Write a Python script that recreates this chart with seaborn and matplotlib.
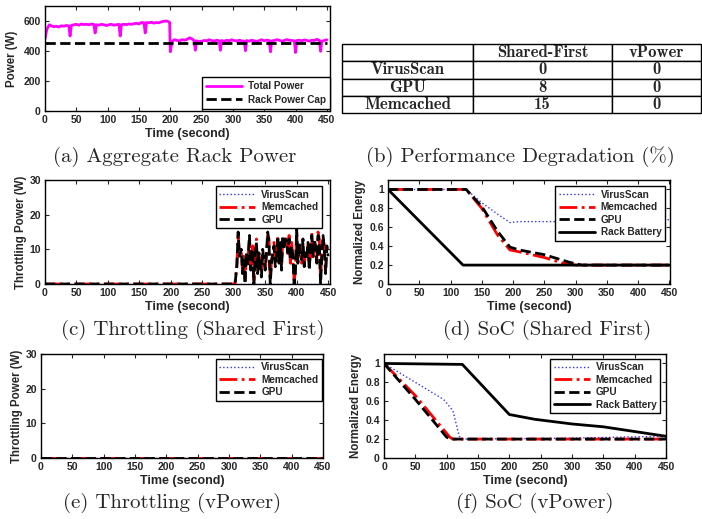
import matplotlib
matplotlib.use("Agg")
import matplotlib.pyplot as plt
import seaborn as sns

# (a) aggregate rack power
pow_t = [0, 3, 7, 10, 14, 18, 22, 26, 30, 34,
         38, 40, 42, 46, 50, 54, 58, 62, 66, 70,
         74, 78, 80, 82, 86, 90, 94, 98, 102, 106,
         110, 114, 118, 120, 122, 126, 130, 134, 138, 142,
         146, 150, 154, 158, 160, 162, 166, 170, 174, 178,
         182, 186, 190, 194, 197, 199, 200, 203, 207, 211,
         215, 219, 223, 227, 231, 235, 238, 240, 242, 246,
         250, 254, 258, 262, 266, 270, 274, 278, 280, 282,
         286, 290, 294, 298, 302, 306, 310, 314, 318, 320,
         322, 326, 330, 334, 338, 342, 346, 350, 354, 358,
         360, 362, 366, 370, 374, 378, 382, 386, 390, 394,
         398, 400, 402, 406, 410, 414, 418, 422, 426, 430,
         434, 438, 440, 442, 446, 450]
pow_w = [480, 545, 575, 568, 562, 565, 560, 568, 565, 570,
         568, 500, 570, 575, 578, 572, 580, 576, 578, 575,
         580, 577, 520, 575, 572, 578, 575, 570, 575, 578,
         572, 575, 578, 500, 575, 578, 576, 580, 578, 582,
         585, 580, 590, 588, 520, 590, 588, 592, 586, 590,
         588, 595, 598, 600, 596, 590, 395, 465, 475, 470,
         468, 476, 472, 478, 488, 480, 470, 405, 468, 462,
         465, 470, 468, 475, 470, 466, 472, 468, 405, 470,
         465, 472, 468, 475, 470, 466, 472, 468, 465, 402,
         470, 465, 472, 468, 462, 470, 475, 468, 472, 470,
         395, 468, 470, 475, 472, 465, 470, 476, 472, 470,
         468, 390, 470, 472, 468, 474, 470, 466, 472, 470,
         478, 472, 398, 465, 470, 475]
cap_t = [0, 450]
cap_w = [450, 450]

# (b) performance degradation (%)
tbl_apps = ["VirusScan", "GPU", "Memcached"]
tbl_cols = ["", "Shared-First", "vPower"]
shared_first = [0, 8, 15]
vpower = [0, 0, 0]

# (c) throttling, shared first
throt_t = [0, 302, 305, 307, 309, 312, 314, 316, 318, 320,
           322, 325, 327, 330, 332, 334, 336, 338, 340, 342,
           344, 346, 348, 350, 352, 354, 356, 358, 360, 362,
           364, 366, 368, 370, 372, 374, 376, 378, 380, 382,
           384, 386, 388, 390, 392, 394, 396, 398, 400, 402,
           404, 406, 408, 410, 412, 414, 416, 418, 420, 422,
           424, 426, 428, 430, 432, 434, 436, 438, 440, 442,
           444, 446, 448, 450]
gpu_thr = [0, 0, 5, 15, 8, 10, 3, 7, 0, 9,
           5, 14, 4, 10, 0, 8, 12, 3, 9, 6,
           2, 10, 7, 4, 9, 15, 12, 0, 6, 9,
           11, 5, 8, 13, 6, 12, 4, 14, 10, 13,
           12, 9, 13, 7, 11, 8, 0, 3, 16, 6,
           12, 9, 7, 13, 5, 9, 7, 12, 4, 10,
           14, 8, 13, 11, 6, 14, 12, 0, 8, 14,
           10, 3, 11, 8]
mem_thr = [0, 0, 6, 14, 9, 9, 4, 8, 1, 8,
           6, 13, 5, 11, 1, 9, 13, 4, 8, 7,
           3, 9, 8, 5, 8, 14, 13, 1, 7, 8,
           12, 6, 7, 14, 7, 11, 5, 13, 11, 12,
           13, 8, 14, 6, 12, 7, 1, 4, 15, 7,
           11, 10, 6, 12, 6, 8, 8, 11, 5, 9,
           15, 7, 12, 10, 7, 15, 13, 1, 9, 13,
           11, 4, 10, 9]
vs_thr_t = [0, 450]
vs_thr = [0, 0]

# (e) throttling, vPower -- all zero
zero_t = [0, 450]
zero_v = [0, 0]

# (d) SoC shared first
d_vs_t = [0, 125, 150, 175, 195, 210, 300, 450]
d_vs = [1.0, 1.0, 0.86, 0.74, 0.65, 0.66, 0.66, 0.68]
d_mem_t = [0, 125, 150, 175, 195, 210, 250, 280, 300, 450]
d_mem = [1.0, 1.0, 0.80, 0.52, 0.36, 0.34, 0.28, 0.22, 0.20, 0.20]
d_gpu_t = [0, 125, 150, 175, 195, 210, 250, 290, 310, 450]
d_gpu = [1.0, 1.0, 0.82, 0.56, 0.39, 0.36, 0.31, 0.23, 0.20, 0.20]
d_bat_t = [0, 120, 450]
d_bat = [1.0, 0.20, 0.20]

# (f) SoC vPower
f_vs_t = [0, 50, 95, 110, 120, 126, 300, 450]
f_vs = [1.0, 0.80, 0.62, 0.50, 0.23, 0.20, 0.21, 0.23]
f_mem_t = [0, 50, 105, 110, 450]
f_mem = [1.0, 0.66, 0.22, 0.20, 0.20]
f_gpu_t = [0, 50, 100, 106, 450]
f_gpu = [1.0, 0.62, 0.22, 0.20, 0.20]
f_bat_t = [0, 125, 200, 240, 300, 350, 400, 450]
f_bat = [1.0, 0.99, 0.46, 0.41, 0.36, 0.33, 0.28, 0.23]

soc_ticks = [0, 0.2, 0.4, 0.6, 0.8, 1.0]
soc_labels = ["0", "0.2", "0.4", "0.6", "0.8", "1"]

sns.set_style("ticks")
plt.rcParams['font.family'] = ['Liberation Sans', 'DejaVu Sans']
plt.rcParams['font.weight'] = 'bold'
plt.rcParams['axes.labelweight'] = 'bold'

W, H = 702, 519
fig = plt.figure(figsize=(W / 100, H / 100), dpi=100)


def rect(l, t, r, b):
    return [l / W, 1 - b / H, (r - l) / W, (b - t) / H]


def style_ax(ax, xmax, ylabel, ypad=2):
    ax.set_xlim(0, xmax)
    ax.set_xticks(range(0, 451, 50))
    ax.tick_params(direction='in', length=3, width=0.8, labelsize=7.5,
                   top=True, right=True, pad=3)
    for lab in ax.get_xticklabels() + ax.get_yticklabels():
        lab.set_fontweight('bold')
    for s in ax.spines.values():
        s.set_visible(True)
        s.set_linewidth(1.0)
        s.set_color('black')
    ax.set_xlabel("Time (second)", fontsize=9, labelpad=2)
    ax.set_ylabel(ylabel, fontsize=8.3, labelpad=ypad)


def leg(ax, x, y):
    ax.legend(loc='upper right', bbox_to_anchor=(x, y), borderaxespad=0,
              fancybox=False, edgecolor='black', framealpha=1,
              prop={'size': 7.2, 'weight': 'bold'}, handlelength=3.6,
              labelspacing=0.25, borderpad=0.35, handletextpad=0.6)
    ax.get_legend().get_frame().set_linewidth(1.0)


def app_lines(ax, vs, mem, gpu):
    sns.lineplot(x=vs[0], y=vs[1], ax=ax, color='#3030ff', linestyle=':',
                 linewidth=1.0, label='VirusScan')
    sns.lineplot(x=mem[0], y=mem[1], ax=ax, color='#ff0000', linestyle='-.',
                 linewidth=2.0, label='Memcached')
    sns.lineplot(x=gpu[0], y=gpu[1], ax=ax, color='black', linestyle='--',
                 linewidth=2.0, label='GPU')


# (a)
ax = fig.add_axes(rect(45, 6, 330, 111))
sns.lineplot(x=pow_t, y=pow_w, ax=ax, color='#ff00ff', linewidth=2.0,
             label='Total Power')
sns.lineplot(x=cap_t, y=cap_w, ax=ax, color='black', linestyle='--',
             linewidth=2.0, label='Rack Power Cap')
ax.set_ylim(0, 700)
ax.set_yticks([0, 200, 400, 600])
style_ax(ax, 455, "Power (W)", ypad=4)
ax.legend(loc='lower right', bbox_to_anchor=(1.0, 0.02), borderaxespad=0,
          fancybox=False, edgecolor='black', framealpha=1,
          prop={'size': 7.2, 'weight': 'bold'}, handlelength=3.6,
          labelspacing=0.35, borderpad=0.4, handletextpad=0.6)
ax.get_legend().get_frame().set_linewidth(1.0)

# (b) table
tax = fig.add_axes(rect(342, 44, 701, 113))
tax.axis('off')
cells = [[a, str(s), str(v)] for a, s, v in zip(tbl_apps, shared_first, vpower)]
tb = tax.table(cellText=cells, colLabels=tbl_cols, cellLoc='center',
               colWidths=[131, 139, 89], bbox=[0, 0, 1, 1])
tb.auto_set_font_size(False)
for (r, c), cell in tb.get_celld().items():
    cell.set_linewidth(1.0)
    cell.set_edgecolor('black')
    cell.get_text().set_fontfamily('cmb10')
    cell.get_text().set_fontsize(12)
    cell.get_text().set_fontweight('normal')

# (c)
ax = fig.add_axes(rect(45, 180, 330, 284))
app_lines(ax, (vs_thr_t, vs_thr), (throt_t, mem_thr), (throt_t, gpu_thr))
ax.set_ylim(0, 30)
ax.set_yticks([0, 10, 20, 30])
style_ax(ax, 453, "Throttling Power (W)")
leg(ax, 0.972, 0.942)

# (d)
ax = fig.add_axes(rect(388, 180, 670, 284))
app_lines(ax, (d_vs_t, d_vs), (d_mem_t, d_mem), (d_gpu_t, d_gpu))
sns.lineplot(x=d_bat_t, y=d_bat, ax=ax, color='black', linewidth=2.0,
             label='Rack Battery')
ax.set_ylim(0, 1.1)
ax.set_yticks(soc_ticks)
ax.set_yticklabels(soc_labels)
style_ax(ax, 451, "Normalized Energy")
leg(ax, 0.982, 0.942)

# (e)
ax = fig.add_axes(rect(41, 354, 323, 458))
app_lines(ax, (zero_t, zero_v), (zero_t, zero_v), (zero_t, zero_v))
ax.set_ylim(0, 30)
ax.set_yticks([0, 10, 20, 30])
style_ax(ax, 450, "Throttling Power (W)")
leg(ax, 0.996, 0.952)

# (f)
ax = fig.add_axes(rect(384, 354, 666, 458))
app_lines(ax, (f_vs_t, f_vs), (f_mem_t, f_mem), (f_gpu_t, f_gpu))
sns.lineplot(x=f_bat_t, y=f_bat, ax=ax, color='black', linewidth=2.0,
             label='Rack Battery')
ax.set_ylim(0, 1.1)
ax.set_yticks(soc_ticks)
ax.set_yticklabels(soc_labels)
style_ax(ax, 450, "Normalized Energy")
leg(ax, 0.979, 0.952)

# captions
caps = [(175, 157, "(a) Aggregate Rack Power"),
        (520, 157, "(b) Performance Degradation (%)"),
        (193, 330, "(c) Throttling (Shared First)"),
        (547, 330, "(d) SoC (Shared First)"),
        (172, 503, "(e) Throttling (vPower)"),
        (535, 503, "(f) SoC (vPower)")]
for cx, cy, txt in caps:
    fig.text(cx / W, 1 - cy / H, txt, family='cmr10', fontsize=15,
             ha='center', va='center', fontweight='normal')

fig.savefig("out.png", dpi=100)
